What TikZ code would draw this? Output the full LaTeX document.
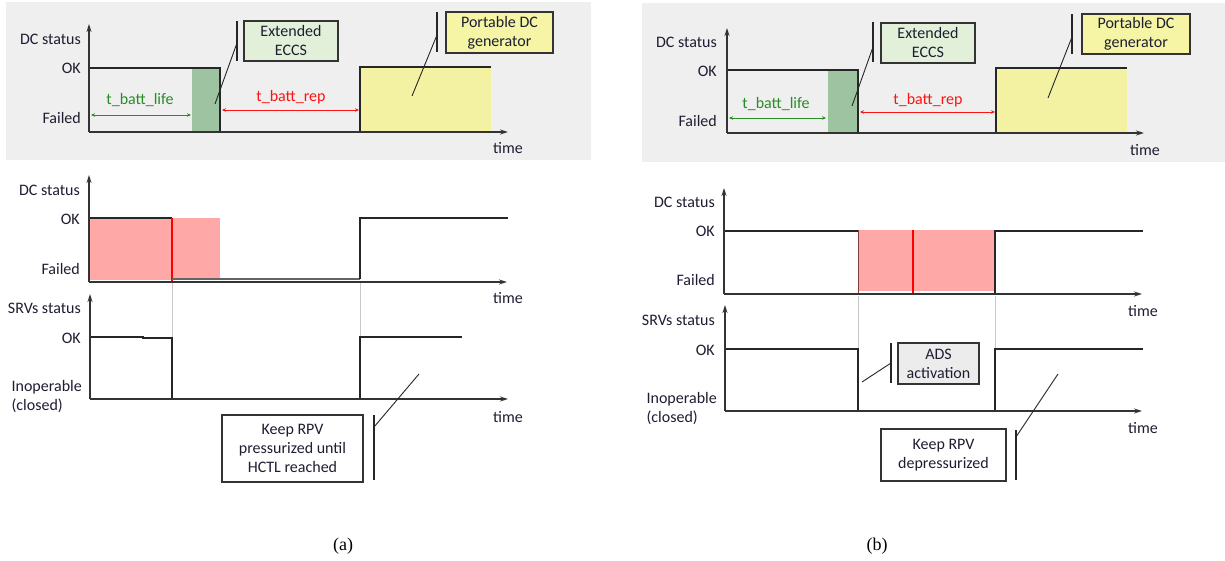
\documentclass[tikz,border=0pt]{standalone}
\usepackage{fontspec}
\setmainfont{Carlito}
\newfontfamily\captionserif{Liberation Serif}
\usetikzlibrary{arrows.meta}

\definecolor{panelgray}{RGB}{239,239,239}
\definecolor{eccsdark}{RGB}{157,195,160}
\definecolor{eccslight}{RGB}{226,240,217}
\definecolor{gendark}{RGB}{242,242,162}
\definecolor{genlight}{RGB}{245,245,165}
\definecolor{failfill}{RGB}{255,168,168}
\definecolor{adsfill}{RGB}{236,236,236}
\definecolor{lifegreen}{RGB}{40,140,40}
\definecolor{repred}{RGB}{250,20,20}
\definecolor{textdark}{RGB}{30,30,50}
\definecolor{guidegray}{RGB}{200,200,200}
\definecolor{lowgray}{RGB}{100,100,100}
\definecolor{edgered}{RGB}{130,60,60}

\tikzset{
  axisline/.style={line width=1.3pt, draw=black!80, -{Stealth[length=8pt,width=5pt]}},
  signal/.style={line width=1.3pt, draw=black!85},
  guide/.style={line width=0.9pt, draw=guidegray},
  ylab/.style={anchor=east, text=textdark, inner sep=0pt},
  timelab/.style={text=textdark, inner sep=0pt},
  callbox/.style={draw=black!80, line width=1.1pt, align=center, inner sep=0pt,
    text=textdark, font=\fontsize{16}{19}\selectfont},
  pointer/.style={line width=0.9pt, draw=black!85},
  pointerbar/.style={line width=1.4pt, draw=black!85},
  span/.style={line width=0.9pt, {Stealth[length=4pt,width=3.5pt]}-{Stealth[length=4pt,width=3.5pt]}},
  caption/.style={font=\captionserif\fontsize{18}{20}\selectfont}
}

\begin{document}
\begin{tikzpicture}[x=1pt,y=-1pt,font=\fontsize{16}{19}\selectfont]
\useasboundingbox (0,0) rectangle (1225,561);
\fill[white] (0,0) rectangle (1225,561);

% =============== case (a) ===============
% --- top: DC sources over time
\fill[panelgray] (6,2) rectangle (591,160);
\fill[eccsdark] (192,68) rectangle (220,132);
\fill[gendark] (360,68) rectangle (491,132);
\draw[signal] (89,68) -- (220,68) -- (220,132);
\draw[signal] (360,132) -- (360,67) -- (491,67);
\draw[axisline] (89,132) -- (89,24);
\draw[axisline] (89,132) -- (508,132);
\node[ylab] (aTopDc) at (81,39) {DC status};
\node[ylab] (aTopOk) at (81,68) {OK};
\node[ylab] (aTopFail) at (81,118) {Failed};
\node[timelab] (aTopTime) at (508,148) {time};

\coordinate (aLifeL) at (91,115);
\coordinate (aLifeR) at (191,115);
\draw[span, lifegreen] (aLifeL) -- (aLifeR);
\node[text=lifegreen] (aLife) at (140,100) {t\_batt\_life};
\coordinate (aRepL) at (222,110);
\coordinate (aRepR) at (359,110);
\draw[span, repred] (aRepL) -- (aRepR);
\node[text=repred] (aRep) at (291,97) {t\_batt\_rep};

\node[callbox, fill=eccslight, minimum width=94pt, minimum height=40pt] (aEccs) at (291,41) {Extended\\ECCS};
\coordinate (aEccsBarT) at (237,21);
\coordinate (aEccsBarB) at (237,61);
\coordinate (aEccsFrom) at (237,43);
\coordinate (aEccsTip) at (215,104);
\draw[pointerbar] (aEccsBarT) -- (aEccsBarB);
\draw[pointer] (aEccsFrom) -- (aEccsTip);

\node[callbox, fill=genlight, minimum width=107pt, minimum height=41pt] (aGen) at (499.5,32.5) {Portable DC\\generator};
\coordinate (aGenBarT) at (437,12);
\coordinate (aGenBarB) at (437,52);
\coordinate (aGenFrom) at (437,35);
\coordinate (aGenTip) at (412,96);
\draw[pointerbar] (aGenBarT) -- (aGenBarB);
\draw[pointer] (aGenFrom) -- (aGenTip);

% --- middle: DC status
\fill[failfill] (89,218) rectangle (220,280);
\draw[signal] (89,218) -- (172,218);
\draw[line width=1.3pt, red] (172,218) -- (172,281);
\draw[line width=2pt, lowgray] (172,279) -- (360,279);
\draw[signal] (360,279) -- (360,218) -- (508,218);
\draw[guide] (172,283) -- (172,337);
\draw[guide] (360,283) -- (360,337);
\draw[axisline] (89,282) -- (89,175);
\draw[axisline] (89,282) -- (507,282);
\node[ylab] (aMidDc) at (80,190) {DC status};
\node[ylab] (aMidOk) at (80,219) {OK};
\node[ylab] (aMidFail) at (80,269) {Failed};
\node[timelab] (aMidTime) at (508,298) {time};

% --- bottom: SRVs status
\draw[signal] (90,337) -- (143,337) -- (143,338) -- (172,338) -- (172,399);
\draw[signal] (360,399) -- (360,337) -- (462,337);
\draw[axisline] (90,399) -- (90,294);
\draw[axisline] (90,399) -- (508,399);
\node[ylab] (aBotSrv) at (81,308) {SRVs status};
\node[ylab] (aBotOk) at (81,338) {OK};
\node[anchor=east, align=left, text=textdark, inner sep=0pt, font=\fontsize{16}{19}\selectfont] (aBotInop) at (82,397) {Inoperable\\(closed)};
\node[timelab] (aBotTime) at (508,417) {time};

\node[callbox, fill=white, minimum width=141pt, minimum height=67pt] (aKeep) at (292.5,448.5) {Keep RPV\\pressurized until\\HCTL reached};
\coordinate (aKeepBarT) at (374,415);
\coordinate (aKeepBarB) at (374,480);
\coordinate (aKeepFrom) at (374,427);
\coordinate (aKeepTip) at (419,374);
\draw[pointerbar] (aKeepBarT) -- (aKeepBarB);
\draw[pointer] (aKeepFrom) -- (aKeepTip);

\node[caption] (capA) at (343,546) {(a)};

% =============== case (b) ===============
% --- top: DC sources over time
\fill[panelgray] (642,3) rectangle (1225,162);
\fill[eccsdark] (828,70) rectangle (858,133);
\fill[gendark] (996,69) rectangle (1127,133);
\draw[signal] (727,70) -- (858,70) -- (858,133);
\draw[signal] (996,133) -- (996,68) -- (1127,68);
\draw[axisline] (727,133) -- (727,28);
\draw[axisline] (727,133) -- (1144,133);
\node[ylab] (bTopDc) at (717,42) {DC status};
\node[ylab] (bTopOk) at (717,71) {OK};
\node[ylab] (bTopFail) at (717,121) {Failed};
\node[timelab] (bTopTime) at (1145,150) {time};

\coordinate (bLifeL) at (729,118);
\coordinate (bLifeR) at (826,118);
\draw[span, lifegreen] (bLifeL) -- (bLifeR);
\node[text=lifegreen] (bLife) at (776,104) {t\_batt\_life};
\coordinate (bRepL) at (860,112);
\coordinate (bRepR) at (995,112);
\draw[span, repred] (bRepL) -- (bRepR);
\node[text=repred] (bRep) at (928,100) {t\_batt\_rep};

\node[callbox, fill=eccslight, minimum width=94pt, minimum height=40pt] (bEccs) at (928,43) {Extended\\ECCS};
\coordinate (bEccsBarT) at (873,22);
\coordinate (bEccsBarB) at (873,62);
\coordinate (bEccsFrom) at (873,47);
\coordinate (bEccsTip) at (852,106);
\draw[pointerbar] (bEccsBarT) -- (bEccsBarB);
\draw[pointer] (bEccsFrom) -- (bEccsTip);

\node[callbox, fill=genlight, minimum width=108pt, minimum height=40pt] (bGen) at (1136,34) {Portable DC\\generator};
\coordinate (bGenBarT) at (1072,14);
\coordinate (bGenBarB) at (1072,54);
\coordinate (bGenFrom) at (1072,37);
\coordinate (bGenTip) at (1048,98);
\draw[pointerbar] (bGenBarT) -- (bGenBarB);
\draw[pointer] (bGenFrom) -- (bGenTip);

% --- middle: DC status
\fill[failfill] (858,230) rectangle (995,291);
\draw[signal] (724,231) -- (858,231);
\draw[line width=1.5pt, edgered] (858.5,230) -- (858.5,294);
\draw[line width=1.3pt, red] (913,230) -- (913,293);
\draw[signal] (995,294) -- (995,231) -- (1143,231);
\draw[guide] (858,296) -- (858,349);
\draw[guide] (995,296) -- (995,349);
\draw[axisline] (724,294) -- (724,188);
\draw[axisline] (724,294) -- (1142,294);
\node[ylab] (bMidDc) at (715,202) {DC status};
\node[ylab] (bMidOk) at (715,231) {OK};
\node[ylab] (bMidFail) at (715,280) {Failed};
\node[timelab] (bMidTime) at (1143,311) {time};

% --- bottom: SRVs status
\draw[signal] (725,349) -- (858,349) -- (858,411);
\draw[signal] (995,411) -- (995,349) -- (1143,349);
\draw[axisline] (725,411) -- (725,305);
\draw[axisline] (725,411) -- (1142,411);
\node[ylab] (bBotSrv) at (715,320) {SRVs status};
\node[ylab] (bBotOk) at (715,350) {OK};
\node[anchor=east, align=left, text=textdark, inner sep=0pt, font=\fontsize{16}{19}\selectfont] (bBotInop) at (717,409) {Inoperable\\(closed)};
\node[timelab] (bBotTime) at (1143,428) {time};

\node[callbox, fill=adsfill, minimum width=81pt, minimum height=41pt] (bAds) at (938.5,363.5) {ADS\\activation};
\coordinate (bAdsBarT) at (891,343);
\coordinate (bAdsBarB) at (891,383);
\coordinate (bAdsFrom) at (891,363);
\coordinate (bAdsTip) at (862,382);
\draw[pointerbar] (bAdsBarT) -- (bAdsBarB);
\draw[pointer] (bAdsFrom) -- (bAdsTip);

\node[callbox, fill=white, minimum width=125pt, minimum height=52pt] (bKeep) at (943.5,455) {Keep RPV\\depressurized};
\coordinate (bKeepBarT) at (1016,430);
\coordinate (bKeepBarB) at (1016,480);
\coordinate (bKeepFrom) at (1016,437);
\coordinate (bKeepTip) at (1058,374);
\draw[pointerbar] (bKeepBarT) -- (bKeepBarB);
\draw[pointer] (bKeepFrom) -- (bKeepTip);

\node[caption] (capB) at (877,546) {(b)};
\end{tikzpicture}
\end{document}
